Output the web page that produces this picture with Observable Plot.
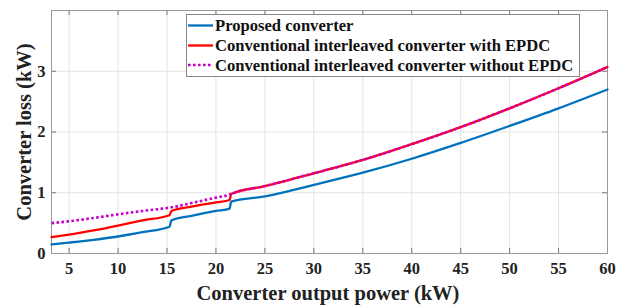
<!DOCTYPE html>
<html>
<head>
<meta charset="utf-8">
<script src="https://cdn.jsdelivr.net/npm/d3@7"></script>
<script src="https://cdn.jsdelivr.net/npm/@observablehq/plot@0.6"></script>
<style>
  html, body { margin: 0; padding: 0; background: #fff; }
  #chart svg { display: block; }
</style>
</head>
<body>
<div id="chart"></div>
<script>
// Output power (kW) sample points
const power = [3.2, 5, 7.5, 10, 12.5, 15.25, 15.45, 17.5, 20, 21.4, 21.55, 25, 30, 35, 40, 45, 50, 55, 60];
// Converter loss (kW)
const proposed    = [0.15, 0.18, 0.225, 0.28, 0.35, 0.44, 0.545, 0.62, 0.70, 0.74, 0.855, 0.94, 1.13, 1.33, 1.56, 1.82, 2.10, 2.39, 2.70];
const withEPDC    = [0.27, 0.31, 0.38, 0.46, 0.545, 0.63, 0.70, 0.77, 0.84, 0.88, 0.98, 1.11, 1.32, 1.54, 1.80, 2.08, 2.39, 2.72, 3.07];
const withoutEPDC = [0.50, 0.53, 0.585, 0.645, 0.70, 0.755, 0.76, 0.83, 0.92, 0.97, 0.98, 1.11, 1.32, 1.54, 1.80, 2.08, 2.39, 2.72, 3.07];

const seriesNames = ["Proposed converter", "Conventional interleaved converter with EPDC", "Conventional interleaved converter without EPDC"];
const seriesColors = ["#0072BD", "#FF0000", "#C800C8"];
const xTicks = [5, 10, 15, 20, 25, 30, 35, 40, 45, 50, 55, 60];
const yTicks = [0, 1, 2, 3];
const xTitle = "Converter output power (kW)";
const yTitle = "Converter loss (kW)";

const W = 628, H = 307;
const mL = 51, mR = 21, mT = 10, mB = 54;
const innerW = W - mL - mR, innerH = H - mT - mB;

const rows = (ys) => power.map((x, i) => ({x, y: ys[i]}));
const font = "Liberation Serif";
const dots = "2.6 2.4";

const plot = Plot.plot({
  width: W, height: H,
  marginLeft: mL, marginRight: mR, marginTop: mT, marginBottom: mB,
  style: {fontFamily: font, fontWeight: "bold", fontSize: "16.5px", color: "#222", background: "#fff"},
  x: {domain: [3.2, 60]},
  y: {domain: [0, 4]},
  marks: [
    Plot.gridX(xTicks, {stroke: "#e3e3e3", strokeOpacity: 1}),
    Plot.gridY(yTicks, {stroke: "#e3e3e3", strokeOpacity: 1}),
    Plot.tickX(xTicks, {x: d => d, insetTop: innerH - 5, stroke: "#777"}),
    Plot.tickX(xTicks, {x: d => d, insetBottom: innerH - 5, stroke: "#777"}),
    Plot.tickY(yTicks, {y: d => d, insetRight: innerW - 5, stroke: "#777"}),
    Plot.tickY(yTicks, {y: d => d, insetLeft: innerW - 5, stroke: "#777"}),
    Plot.frame({stroke: "#999"}),
    Plot.axisX(xTicks, {tickSize: 0, tickPadding: 9, tickFormat: d => String(d), fontFamily: font, fontWeight: "bold", fontSize: 16.5, label: null}),
    Plot.axisY(yTicks, {tickSize: 0, tickPadding: 6, tickFormat: d => String(d), fontFamily: font, fontWeight: "bold", fontSize: 16.5, label: null}),
    Plot.text([xTitle], {text: d => d, frameAnchor: "bottom", textAnchor: "middle", lineAnchor: "bottom", dy: 46.3, dx: -1.5,
      fontFamily: font, fontWeight: "bold", fontSize: 20.5, fill: "#222", ariaLabel: "x-title"}),
    Plot.text([yTitle], {text: d => d, frameAnchor: "left", textAnchor: "middle", lineAnchor: "bottom", rotate: -90, dx: -21,
      fontFamily: font, fontWeight: "bold", fontSize: 20.5, fill: "#222", ariaLabel: "y-title"}),
    Plot.line(rows(proposed), {x: "x", y: "y", stroke: seriesColors[0], strokeWidth: 2.3, curve: "monotone-x"}),
    Plot.line(rows(withEPDC), {x: "x", y: "y", stroke: seriesColors[1], strokeWidth: 2.3, curve: "monotone-x"}),
    Plot.line(rows(withoutEPDC), {x: "x", y: "y", stroke: seriesColors[2], strokeWidth: 2.6, strokeDasharray: dots, strokeLinecap: "butt", curve: "monotone-x"})
  ]
});

// Legend inside the plot area
const svg = d3.select(plot);
const lg = svg.append("g").attr("font-family", font).attr("font-weight", "bold").attr("font-size", "16.6px").attr("text-anchor", "start");
lg.append("rect").attr("x", 186.5).attr("y", 14.5).attr("width", 393).attr("height", 62)
  .attr("fill", "#fff").attr("stroke", "#888");
const rowY = [25.5, 45.5, 65];
seriesNames.forEach((name, i) => {
  lg.append("line").attr("x1", 188).attr("x2", 213).attr("y1", rowY[i]).attr("y2", rowY[i])
    .attr("stroke", seriesColors[i]).attr("stroke-width", i === 2 ? 2.6 : 2.3)
    .attr("stroke-dasharray", i === 2 ? dots : null);
  lg.append("text").attr("x", 215).attr("y", rowY[i]).attr("dy", "0.35em").attr("fill", "#111").text(name);
});

document.getElementById("chart").append(plot);

// fit axis titles to the reference lengths
function fit(label, target) {
  const t = plot.querySelector(`g[aria-label='${label}'] text`);
  if (!t) return;
  const len = t.getComputedTextLength();
  if (len > 0) t.setAttribute("font-size", (20.5 * target / len).toFixed(2));
}
fit("x-title", 259);
fit("y-title", 177);
</script>
</body>
</html>
